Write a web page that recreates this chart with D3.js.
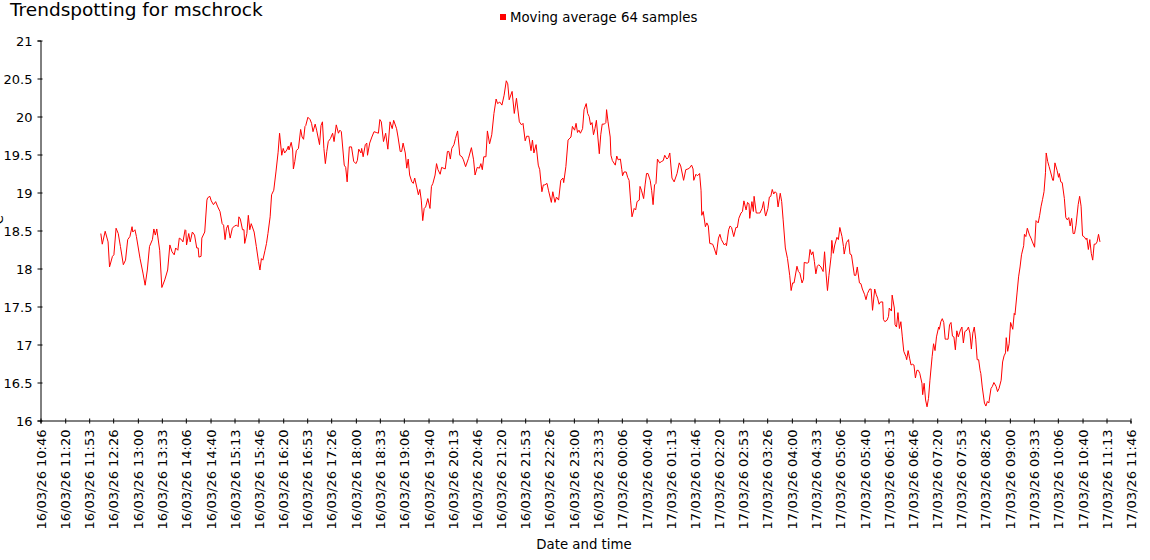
<!DOCTYPE html>
<html>
<head>
<meta charset="utf-8">
<script src="https://cdn.jsdelivr.net/npm/d3@7/dist/d3.min.js"></script>
<style>
  html, body { margin: 0; padding: 0; background: #ffffff; }
  svg { display: block; }
</style>
</head>
<body>
<svg id="chart" width="1150" height="560"></svg>
<script>
// ---------------- DATA ----------------
const chartTitle = "Trendspotting for mschrock";
const seriesName = "Moving average 64 samples";
const xAxisTitle = "Date and time";
const yAxisTitle = "°C";

const yTickLabels = ["16","16.5","17","17.5","18","18.5","19","19.5","20","20.5","21"];

const xTickLabels = [
  "16/03/26 10:46","16/03/26 11:20","16/03/26 11:53","16/03/26 12:26","16/03/26 13:00",
  "16/03/26 13:33","16/03/26 14:06","16/03/26 14:40","16/03/26 15:13","16/03/26 15:46",
  "16/03/26 16:20","16/03/26 16:53","16/03/26 17:26","16/03/26 18:00","16/03/26 18:33",
  "16/03/26 19:06","16/03/26 19:40","16/03/26 20:13","16/03/26 20:46","16/03/26 21:20",
  "16/03/26 21:53","16/03/26 22:26","16/03/26 23:00","16/03/26 23:33","17/03/26 00:06",
  "17/03/26 00:40","17/03/26 01:13","17/03/26 01:46","17/03/26 02:20","17/03/26 02:53",
  "17/03/26 03:26","17/03/26 04:00","17/03/26 04:33","17/03/26 05:06","17/03/26 05:40",
  "17/03/26 06:13","17/03/26 06:46","17/03/26 07:20","17/03/26 07:53","17/03/26 08:26",
  "17/03/26 09:00","17/03/26 09:33","17/03/26 10:06","17/03/26 10:40","17/03/26 11:13",
  "17/03/26 11:46"
];

// sample times: minutes after 16/03/26 10:46
const sampleStart = "16/03/26 10:46";
const sampleMinutes = [
  83,85,89,93,95,99,101,104,107,110,114,117,120,123,126,127,130,132,137,141,
  144,147,150,154,156,158,160,164,167,171,175,178,181,184,186,189,191,194,196,199,
  200,201,204,206,209,212,215,217,218,221,222,226,229,230,233,235,238,241,244,247,
  250,252,254,256,258,261,264,267,270,272,273,275,278,280,281,284,286,288,290,294,
  297,300,302,304,306,309,311,313,316,318,321,324,327,329,
  332,334,336,339,341,342,345,347,348,350,352,355,358,360,362,364,365,368,371,373,
  375,378,380,384,386,388,390,392,394,396,399,402,404,407,410,412,414,418,420,422,
  425,428,431,434,436,438,441,442,444,447,449,450,453,456,459,462,465,467,469,472,
  475,478,481,484,486,490,492,495,497,499,502,504,506,508,511,513,515,518,520,522,
  524,526,528,530,533,536,538,540,543,545,547,550,552,557,560,562,564,566,569,571,
  574,577,580,582,585,589,593,596,598,601,604,606,608,610,613,615,618,621,624,627,
  629,632,
  635,638,641,643,645,649,652,655,659,662,664,667,669,672,675,677,679,682,685,687,
  690,692,694,697,699,703,705,708,710,713,716,719,720,723,726,730,732,735,737,739,
  741,743,746,748,751,753,755,757,759,761,763,765,769,771,773,776,778,779,781,784,
  785,787,791,793,795,798,800,801,803,806,808,810,812,814,817,819,821,824,825,827,
  830,832,834,836,839,841,843,845,847,849,852,855,857,859,862,864,866,869,872,876,
  879,881,885,888,891,893,896,898,899,902,904,907,
  909,910,912,915,917,919,921,925,927,930,933,935,937,941,943,944,947,949,951,954,
  957,959,961,964,966,968,971,973,975,976,979,981,982,985,988,990,993,995,997,998,
  1001,1003,1005,1007,1009,1011,1013,1015,1018,1020,1022,1025,1028,1031,1033,1035,1037,1041,1043,1045,
  1048,1050,1051,1055,1057,1059,1061,1063,1065,1067,1069,1071,1074,1077,1079,1081,1083,1085,1088,1089,
  1091,1093,1096,1098,1100,1103,1105,1106,1109,1112,1114,1116,1120,1122,1124,1127,1129,1131,1134,1136,
  1138,1141,1143,1145,1148,1150,1152,1154,1156,1159,1160,1162,1165,1167,1168,1171,1172,1175,1176,1178,
  1180,1182,1184,1186,1188,1191,1192,1194,1196,1198,1200,1202,1204,1206,1208,1210,1213,1214,1216,1218,
  1220,1222,1224,1227,1229,1231,1233,1236,1237,1239,1241,1243,1245,1247,1249,1251,1253,1255,1257,1259,
  1261,1263,1266,1268,1270,1272,1275,1277,1279,1281,1283,1285,1287,1289,1291,1293,1294,1296,1299,1301,
  1303,1305,1308,1310,1312,1315,1317,1319,1322,1324,1326,1328,1329,1331,1333,1335,1338,1340,1341,1344,
  1346,1348,1350,1353,1354,1356,1358,1361,1363,1365,1368,1370,1373,1375,1377,1379,1381,1383,1384,1386,
  1388,1390,1393,1394,1396,1399,1401,1402,1404,1406,1409,1411,1413,1415,1417,1419,1421,1423,1425,1428,
  1430,1432,1434,1436,1439,1440,1442,1444,1446,1448,1450,1452,1454,1456,1458
];

const movingAverage = [
  18.46,18.32,18.49,18.35,18.02,18.16,18.18,18.53,18.46,18.29,18.05,18.11,18.38,18.42,18.55,18.48,18.51,18.42,18.13,17.94,
  17.78,17.98,18.29,18.38,18.52,18.44,18.52,18.24,17.75,17.85,17.98,18.31,18.22,18.18,18.27,18.24,18.40,18.38,18.35,18.51,
  18.50,18.31,18.46,18.35,18.48,18.44,18.27,18.27,18.15,18.16,18.40,18.48,18.90,18.93,18.95,18.89,18.84,18.88,18.81,18.75,
  18.59,18.57,18.38,18.53,18.57,18.40,18.53,18.56,18.57,18.55,18.68,18.65,18.51,18.51,18.33,18.46,18.70,18.51,18.59,18.48,
  18.29,18.09,17.98,18.13,18.11,18.24,18.33,18.46,18.68,18.97,19.03,19.27,19.53,19.78,
  19.49,19.58,19.52,19.56,19.61,19.56,19.66,19.56,19.31,19.41,19.55,19.58,19.83,19.73,19.70,19.87,19.88,19.99,19.96,19.91,
  19.80,19.90,19.82,19.63,19.88,19.93,19.58,19.38,19.54,19.67,19.71,19.78,19.67,19.89,19.78,19.82,19.80,19.36,19.33,19.14,
  19.60,19.60,19.41,19.38,19.42,19.57,19.52,19.58,19.47,19.63,19.65,19.49,19.65,19.73,19.80,19.79,19.78,19.96,19.93,19.67,
  19.78,19.57,19.93,19.84,19.95,19.84,19.73,19.54,19.54,19.65,19.52,19.32,19.44,19.23,19.14,19.12,19.19,19.06,18.97,19.04,
  18.90,18.63,18.79,18.81,18.92,18.79,19.08,19.12,19.23,19.38,19.30,19.24,19.33,19.31,19.54,19.54,19.44,19.58,19.63,19.71,
  19.81,19.49,19.47,19.43,19.34,19.45,19.59,19.43,19.23,19.33,19.32,19.38,19.30,19.47,19.47,19.81,19.64,19.76,20.04,20.23,
  20.17,20.19,
  20.15,20.28,20.47,20.43,20.22,20.33,20.04,20.24,19.93,19.89,19.91,19.68,19.74,19.74,19.55,19.69,19.52,19.63,19.36,19.30,
  19.01,19.10,19.10,19.12,19.03,18.87,19.01,18.87,18.94,18.90,19.16,19.19,19.13,19.34,19.69,19.73,19.87,19.82,19.91,19.79,
  19.82,19.78,19.84,20.09,20.17,20.04,20.00,19.89,19.92,19.76,19.84,19.95,19.51,19.76,19.90,19.90,19.92,20.09,19.93,19.73,
  19.49,19.42,19.36,19.48,19.43,19.44,19.30,19.22,19.27,19.27,19.20,19.16,18.90,18.68,18.79,18.77,18.88,18.90,19.08,19.03,
  18.92,19.10,19.25,19.25,19.16,19.03,18.84,19.10,19.12,19.44,19.39,19.41,19.42,19.49,19.44,19.46,19.52,19.19,19.14,19.25,
  19.39,19.35,19.16,19.30,19.31,19.32,19.36,19.31,19.16,19.24,19.22,19.25,
  19.03,18.70,18.75,18.55,18.60,18.56,18.33,18.32,18.27,18.18,18.40,18.45,18.38,18.31,18.33,18.30,18.51,18.56,18.54,18.42,
  18.54,18.54,18.66,18.73,18.75,18.89,18.77,18.87,18.85,18.66,18.88,18.75,18.95,18.73,18.73,18.73,18.79,18.88,18.73,18.69,
  18.79,18.94,18.95,19.04,18.98,19.01,18.99,18.81,18.99,18.88,18.64,18.27,18.13,17.91,17.71,17.81,17.81,18.03,17.96,17.94,
  17.81,17.86,18.08,18.07,18.08,18.25,18.18,18.22,18.09,17.93,18.03,18.05,18.02,17.96,18.22,17.94,17.71,17.91,18.16,18.37,
  18.20,18.31,18.41,18.38,18.54,18.42,18.29,18.19,18.34,18.38,18.19,18.18,17.91,17.91,18.02,17.81,17.80,17.73,17.66,17.59,
  17.67,17.73,17.73,17.45,17.73,17.66,17.61,17.53,17.56,17.56,17.33,17.30,17.32,17.37,17.48,17.44,17.65,17.48,17.26,17.23,
  17.42,17.21,17.30,17.10,16.91,16.84,16.80,16.92,16.82,16.73,16.74,16.73,16.56,16.66,16.66,16.62,16.49,16.34,16.49,16.27,
  16.18,16.29,16.53,16.84,17.01,16.92,17.10,17.23,17.20,17.30,17.34,17.29,17.07,17.07,17.07,17.26,17.29,17.11,17.10,16.93,
  17.18,17.10,17.19,17.23,17.02,17.17,17.19,17.23,17.15,16.94,17.15,17.23,17.07,16.80,16.80,16.66,16.62,16.44,16.23,16.19,
  16.25,16.23,16.42,16.45,16.50,16.45,16.38,16.42,16.53,16.77,16.85,16.89,17.09,16.91,17.01,17.29,17.20,17.41,17.39,17.69,
  17.89,18.02,18.18,18.30,18.45,18.42,18.53,18.44,18.40,18.35,18.28,18.63,18.60,18.70,18.82,18.91,19.01,19.26,19.52,19.41,
  19.34,19.27,19.16,19.16,19.39,19.29,19.20,19.25,19.14,19.13,18.92,18.67,18.64,18.67,18.56,18.66,18.46,18.46,18.57,18.84,
  18.95,18.82,18.43,18.42,18.38,18.40,18.25,18.38,18.20,18.11,18.32,18.32,18.35,18.45,18.35
];

// ---------------- CHART ----------------
const W = 1150, H = 560;
const plot = { left: 40.5, right: 1130.5, top: 40.5, bottom: 420.5 };
const FONT = "'DejaVu Sans', Verdana, sans-serif";

const parseTime = d3.timeParse("%d/%m/%y %H:%M");
const formatTime = d3.timeFormat("%d/%m/%y %H:%M");
const xTickDates = xTickLabels.map(parseTime);
const startDate = parseTime(sampleStart);

const data = sampleMinutes.map((m, i) => ({
  t: d3.timeMinute.offset(startDate, m),
  v: movingAverage[i]
}));

const yTickValues = yTickLabels.map(Number);

const x = d3.scaleTime()
  .domain([xTickDates[0], xTickDates[xTickDates.length - 1]])
  .range([plot.left, plot.right]);

const y = d3.scaleLinear()
  .domain([d3.min(yTickValues), d3.max(yTickValues)])
  .range([plot.bottom, plot.top]);

const svg = d3.select("#chart");

// title
svg.append("text")
  .attr("x", 10).attr("y", 16)
  .attr("font-family", FONT).attr("font-size", 18.5)
  .attr("fill", "#000")
  .text(chartTitle);

// legend
const legend = svg.append("g");
legend.append("rect")
  .attr("x", 500).attr("y", 14).attr("width", 6).attr("height", 6)
  .attr("fill", "#ff0000");
legend.append("text")
  .attr("x", 510).attr("y", 22)
  .attr("font-family", FONT).attr("font-size", 13.3)
  .attr("fill", "#000")
  .text(seriesName);

// y axis
const yAxis = svg.append("g")
  .attr("transform", `translate(${plot.left},0)`)
  .call(d3.axisLeft(y).tickValues(yTickValues)
    .tickFormat((d, i) => yTickLabels[i]).tickSizeOuter(0).tickSize(3).tickPadding(5));
yAxis.selectAll(".tick line").attr("x1", -3).attr("x2", 2).attr("stroke", "#000");
yAxis.select(".domain").attr("stroke", "#000");
yAxis.selectAll("text")
  .attr("font-family", FONT).attr("font-size", 13).attr("fill", "#000")
  .attr("x", -8).attr("dy", "0.35em");

// x axis
const xAxis = svg.append("g")
  .attr("transform", `translate(0,${plot.bottom})`)
  .call(d3.axisBottom(x).tickValues(xTickDates)
    .tickFormat(d => formatTime(d)).tickSizeOuter(0).tickSize(3));
xAxis.selectAll(".tick line").attr("y1", -2).attr("y2", 3).attr("stroke", "#000");
xAxis.select(".domain").attr("stroke", "#000");
xAxis.selectAll("text")
  .attr("font-family", FONT).attr("font-size", 13).attr("fill", "#000")
  .attr("transform", "rotate(-90)")
  .attr("x", -9).attr("y", 0).attr("dy", "0.35em")
  .attr("text-anchor", "end");

// axis titles
svg.append("text")
  .attr("x", 584).attr("y", 549)
  .attr("text-anchor", "middle")
  .attr("font-family", FONT).attr("font-size", 13.3).attr("fill", "#000")
  .text(xAxisTitle);

svg.append("text")
  .attr("transform", "translate(3,223) rotate(-90)")
  .attr("text-anchor", "middle")
  .attr("font-family", FONT).attr("font-size", 13).attr("fill", "#000")
  .text(yAxisTitle);

// line
const line = d3.line()
  .x(d => x(d.t))
  .y(d => y(d.v));

svg.append("path")
  .datum(data)
  .attr("fill", "none")
  .attr("stroke", "#ff0000")
  .attr("stroke-width", 1)
  .attr("stroke-linejoin", "round")
  .attr("d", line);
</script>
</body>
</html>
